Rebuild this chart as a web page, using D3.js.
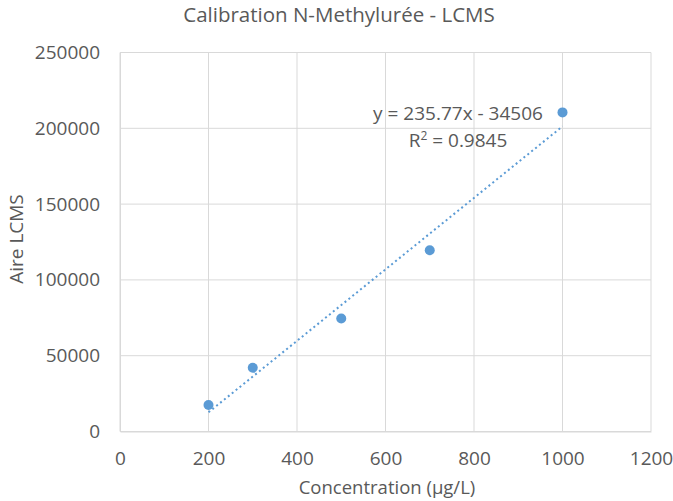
<!DOCTYPE html>
<html><head><meta charset="utf-8">
<script src="https://cdn.jsdelivr.net/npm/d3@7"></script>
<style>body{margin:0;background:#fff;} text{font-family:"Open Sans","Noto Sans",sans-serif;fill:#595959;}</style>
</head><body>
<svg id="c" width="673" height="501"></svg>
<script>
const concentrations = [200, 300, 500, 700, 1000];
const aires = [17500, 42000, 74500, 119500, 210500];
const xTicks = [0, 200, 400, 600, 800, 1000, 1200];
const yTicks = [0, 50000, 100000, 150000, 200000, 250000];
const slope = 235.77, intercept = -34506;
const titleText = "Calibration N-Methylurée - LCMS";
const xLabel = "Concentration (µg/L)";
const yLabel = "Aire LCMS";
const eqText = "y = 235.77x - 34506";

const svg = d3.select("#c");
const m = {l:120, r:22, t:52.5, b:69.5};
const W = 673, H = 501;
const x = d3.scaleLinear().domain([0,1200]).range([m.l, W-m.r]);
const y = d3.scaleLinear().domain([0,250000]).range([H-m.b, m.t]);

// gridlines
const g = svg.append("g");
g.selectAll(".vx").data(xTicks).join("line")
  .attr("x1", d=>x(d)).attr("x2", d=>x(d)).attr("y1", y(0)).attr("y2", y(250000))
  .attr("stroke", "#d9d9d9").attr("stroke-width", 1);
g.selectAll(".hy").data(yTicks).join("line")
  .attr("x1", x(0)).attr("x2", x(1200)).attr("y1", d=>y(d)).attr("y2", d=>y(d))
  .attr("stroke", "#d9d9d9").attr("stroke-width", 1);

// axes
const xa = svg.append("g").attr("transform", `translate(0,${y(0)})`)
  .call(d3.axisBottom(x).tickValues(xTicks).tickSize(0).tickPadding(0).tickFormat(d3.format("d")));
xa.select(".domain").attr("stroke", "#d9d9d9");
xa.selectAll("text").style("font-size","19px").attr("dy", null).attr("y", 33.5);
const ya = svg.append("g").attr("transform", `translate(${x(0)},0)`)
  .call(d3.axisLeft(y).tickValues(yTicks).tickSize(0).tickPadding(20).tickFormat(d3.format("d")));
ya.select(".domain").attr("stroke", "#d9d9d9");
ya.selectAll("text").style("font-size","19px");

// trendline
svg.append("line")
  .attr("x1", x(200)).attr("y1", y(slope*200+intercept))
  .attr("x2", x(1000)).attr("y2", y(slope*1000+intercept))
  .attr("stroke", "#5b9bd5").attr("stroke-width", 2)
  .attr("stroke-dasharray", "2,3").attr("stroke-linecap","butt");

// points
svg.selectAll("circle").data(concentrations).join("circle")
  .attr("cx", (d)=>x(d)).attr("cy", (d,i)=>y(aires[i])).attr("r", 5)
  .attr("fill", "#5b9bd5");

// equation
svg.append("text").attr("x", 458).attr("y", 120).attr("text-anchor","middle")
  .style("font-size","19px").text(eqText);
const r2 = svg.append("text").attr("x", 458).attr("y", 147).attr("text-anchor","middle")
  .style("font-size","19px");
r2.append("tspan").text("R");
r2.append("tspan").attr("dy", -7).style("font-size","12px").text("2");
r2.append("tspan").attr("dy", 7).text(" = 0.9845");

// titles
svg.append("text").attr("x", 339).attr("y", 22).attr("text-anchor","middle")
  .style("font-size","20.5px").text(titleText);
svg.append("text").attr("x", 387).attr("y", 494).attr("text-anchor","middle")
  .style("font-size","18.5px").text(xLabel);
svg.append("text").attr("transform", `translate(23,239) rotate(-90)`).attr("text-anchor","middle")
  .style("font-size","19px").text(yLabel);
</script>
</body></html>
